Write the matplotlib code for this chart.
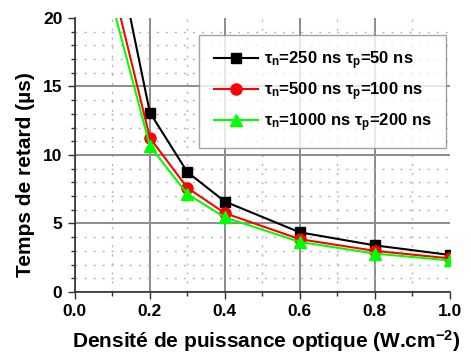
import matplotlib
matplotlib.use("Agg")
import matplotlib.pyplot as plt
from matplotlib.ticker import MultipleLocator

plt.rcParams['font.family'] = ['Liberation Sans', 'DejaVu Sans']
plt.rcParams['font.weight'] = 'bold'
plt.rcParams['mathtext.fontset'] = 'custom'
plt.rcParams['mathtext.rm'] = 'Liberation Sans:bold'
plt.rcParams['mathtext.it'] = 'Liberation Sans:bold'
plt.rcParams['mathtext.bf'] = 'Liberation Sans:bold'
plt.rcParams['mathtext.sf'] = 'Liberation Sans:bold'

# densité de puissance (W/cm2) et temps de retard (µs)
densite = [0.1, 0.2, 0.3, 0.4, 0.6, 0.8, 1.0]
retard_250_50 = [26.4, 13.1, 8.75, 6.6, 4.35, 3.4, 2.7]
retard_500_100 = [22.5, 11.25, 7.6, 5.75, 3.85, 3.0, 2.45]
retard_1000_200 = [21.0, 10.65, 7.15, 5.45, 3.65, 2.8, 2.3]

labels = [r'$\tau_{n}$=250 ns $\tau_{p}$=50 ns',
          r'$\tau_{n}$=500 ns $\tau_{p}$=100 ns',
          r'$\tau_{n}$=1000 ns $\tau_{p}$=200 ns']

fig = plt.figure(figsize=(4.71, 3.53), dpi=100)
ax = fig.add_axes([0.159, 0.173, 0.796, 0.776])

ax.plot(densite, retard_250_50, color='black', marker='s', ms=7, lw=1.5, label=labels[0])
ax.plot(densite, retard_500_100, color='red', marker='o', ms=8, lw=1.5, label=labels[1])
ax.plot(densite, retard_1000_200, color='#00ff00', marker='^', ms=9, lw=1.5, label=labels[2])

ax.set_xlim(0, 1.0)
ax.set_ylim(0, 20)
ax.xaxis.set_major_locator(MultipleLocator(0.2))
ax.xaxis.set_minor_locator(MultipleLocator(0.1))
ax.yaxis.set_major_locator(MultipleLocator(5))
ax.yaxis.set_minor_locator(MultipleLocator(1))
ax.xaxis.set_major_formatter(plt.FormatStrFormatter('%.1f'))

ax.grid(which='major', color='#8c8c8c', lw=1.4)
ax.grid(which='minor', color='#b4b4b4', lw=1, linestyle=(0, (1.5, 5)))
ax.set_axisbelow(True)

for s in ['top', 'right']:
    ax.spines[s].set_visible(False)
for s in ['left', 'bottom']:
    ax.spines[s].set_color('#303030')
    ax.spines[s].set_linewidth(1.2)

ax.tick_params(which='major', direction='out', length=5, width=1, color='#303030',
               labelsize=12.5, pad=4)
ax.tick_params(which='minor', direction='out', length=3, width=1, color='#303030')

ax.set_xlabel('Densité de puissance optique (W.cm$^{-2}$)', fontsize=15, fontweight='bold')
ax.set_ylabel('Temps de retard (µs)', fontsize=15, fontweight='bold')
ax.xaxis.set_label_coords(0.51, -0.132)
ax.yaxis.set_label_coords(-0.107, 0.43)

leg = ax.legend(loc='upper right', bbox_to_anchor=(0.989, 0.938), borderaxespad=0,
                fontsize=12, handlelength=2.65, frameon=True, fancybox=False,
                borderpad=0.85, labelspacing=0.5, handletextpad=0.35)
leg.get_frame().set_edgecolor('#8c8c8c')
leg.get_frame().set_linewidth(1)

# pas de grille principale sur les bords haut et droit
fig.canvas.draw()
for tick in ax.xaxis.get_major_ticks():
    if abs(tick.get_loc() - ax.get_xlim()[1]) < 1e-9:
        tick.gridline.set_visible(False)
for tick in ax.yaxis.get_major_ticks():
    if abs(tick.get_loc() - ax.get_ylim()[1]) < 1e-9:
        tick.gridline.set_visible(False)

fig.savefig('out.png', dpi=100)
